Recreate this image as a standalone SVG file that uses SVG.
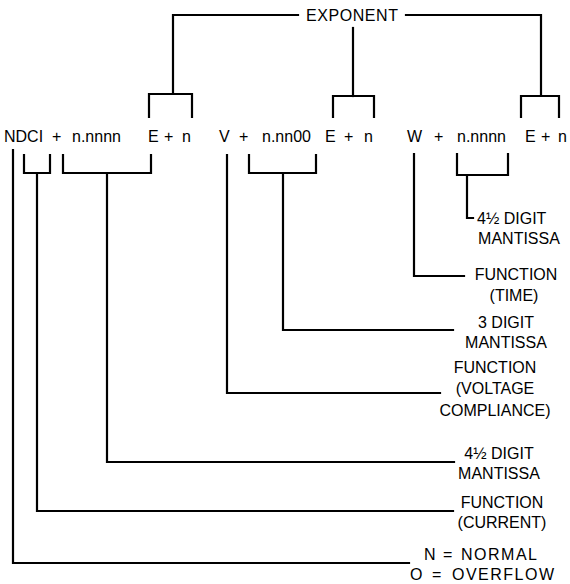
<svg xmlns="http://www.w3.org/2000/svg" width="570" height="584" viewBox="0 0 570 584">
<style>
text{font-family:"Liberation Sans",Arial,sans-serif;font-size:16px;fill:#000}
.m{text-anchor:middle}
.c{fill:none;stroke:#000;stroke-width:2.2;stroke-linejoin:miter;stroke-linecap:square}
</style>
<rect width="570" height="584" fill="#fff"/>
<g id="connectors" class="c">
<path d="M298,15 H173 V94"/>
<path d="M149,117 V94 H192 V117"/>
<path d="M353,28 V96"/>
<path d="M333,117 V96 H374 V117"/>
<path d="M406,15 H541 V96"/>
<path d="M521,117 V96 H559 V117"/>
<path d="M13,150 V563 H409"/>
<path d="M24,155 V173 H50 V155"/>
<path d="M37,173 V511 H453"/>
<path d="M63,155 V173 H151 V155"/>
<path d="M107,173 V462 H454"/>
<path d="M227,155 V393 H440"/>
<path d="M249,155 V173 H316 V155"/>
<path d="M283,173 V330 H453"/>
<path d="M414,154 V276 H464"/>
<path d="M457,154 V175 H508 V154"/>
<path d="M467,175 V218 H473"/>
</g>
<g id="exponent"><text x="306" y="21" textLength="92" lengthAdjust="spacing">EXPONENT</text></g>
<g id="group1">
<text x="4" y="142">NDCI</text><text x="52" y="142">+</text><text x="72" y="142">n.nnnn</text>
<text x="148" y="142">E</text><text x="164" y="142">+</text><text x="182" y="142">n</text>
</g>
<g id="group2">
<text x="219" y="142">V</text><text x="239" y="142">+</text><text x="262" y="142">n.nn00</text>
<text x="325" y="142">E</text><text x="344" y="142">+</text><text x="364" y="142">n</text>
</g>
<g id="group3">
<text x="407" y="142">W</text><text x="434" y="142">+</text><text x="457" y="142">n.nnnn</text>
<text x="525" y="142">E</text><text x="541" y="142">+</text><text x="558" y="142">n</text>
</g>
<g id="label-mantissa3"><text x="477" y="224">4½ DIGIT</text><text class="m" x="519" y="244">MANTISSA</text></g>
<g id="label-time"><text class="m" x="516" y="280">FUNCTION</text><text class="m" x="514" y="301">(TIME)</text></g>
<g id="label-mantissa2"><text class="m" x="506" y="328">3 DIGIT</text><text class="m" x="506" y="348">MANTISSA</text></g>
<g id="label-voltage"><text class="m" x="495" y="373">FUNCTION</text><text class="m" x="495" y="394">(VOLTAGE</text><text class="m" x="495" y="416">COMPLIANCE)</text></g>
<g id="label-mantissa1"><text class="m" x="499" y="459">4½ DIGIT</text><text class="m" x="499" y="479">MANTISSA</text></g>
<g id="label-current"><text class="m" x="502" y="508">FUNCTION</text><text class="m" x="502" y="528">(CURRENT)</text></g>
<g id="label-status">
<text x="424" y="560">N</text><text x="443" y="560">=</text><text x="461" y="560" textLength="76" lengthAdjust="spacing">NORMAL</text>
<text x="410" y="580">O</text><text x="432" y="580">=</text><text x="452" y="580" textLength="102" lengthAdjust="spacing">OVERFLOW</text>
</g>
</svg>
